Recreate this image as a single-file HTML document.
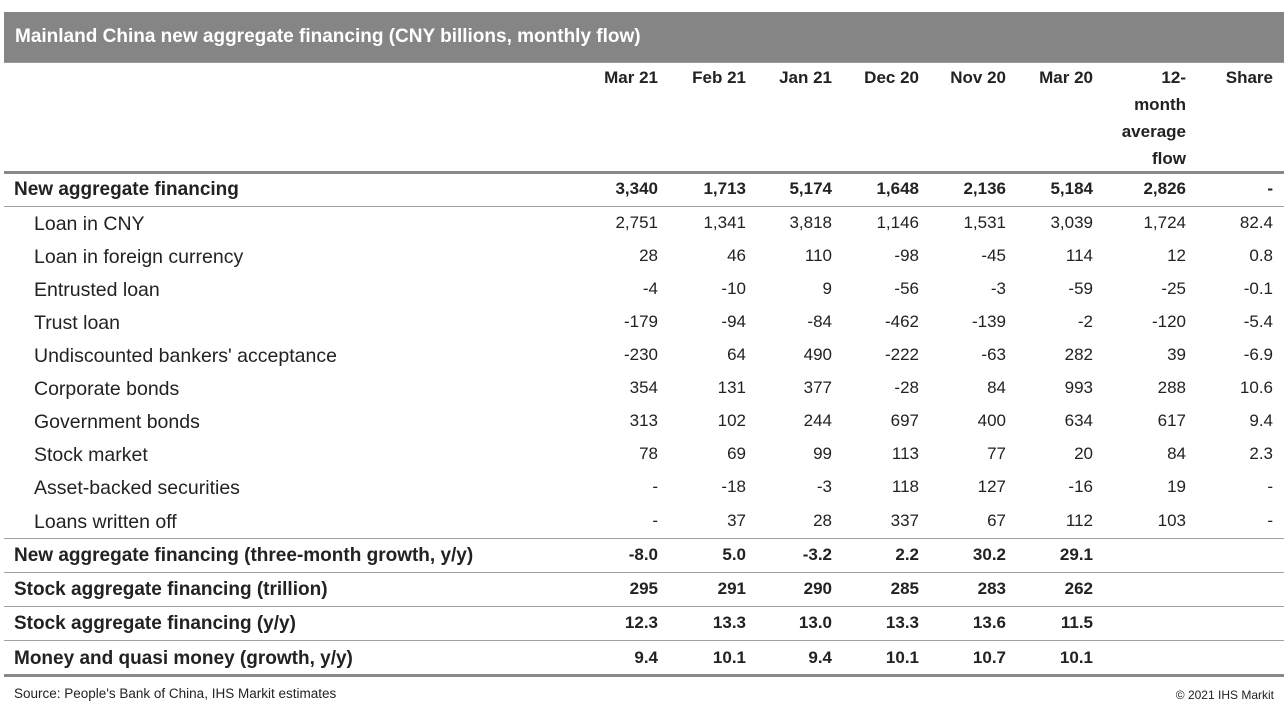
<!DOCTYPE html>
<html><head><meta charset="utf-8"><style>
body{margin:0;width:1288px;height:718px;background:#fff;font-family:"Liberation Sans",sans-serif;color:#222;position:relative;overflow:hidden}
.a{position:absolute;white-space:nowrap}
.t{position:absolute;left:4px;top:12px;width:1280px;height:50px;background:#858585;border-bottom:1px solid #999}
.t span{position:absolute;left:11px;top:14px;color:#fff;font-weight:bold;font-size:19px}
.ln{position:absolute;left:4px;width:1280px;background:#a0a0a0;height:1px}
.th{height:3px;background:#8a8a8a}
.h{font-weight:bold;font-size:17px;text-align:right}
.r{font-size:17px;text-align:right}
.b{font-weight:bold}
</style></head><body>
<div class="t"><span>Mainland China new aggregate financing (CNY billions, monthly flow)</span></div>
<div id="tbl"></div>
<div class="a" style="left:14px;top:686px;font-size:13.5px">Source: People's Bank of China, IHS Markit estimates</div>
<div class="a" style="right:14px;top:688px;font-size:12px">© 2021 IHS Markit</div>
<script>
const headers=["Mar 21","Feb 21","Jan 21","Dec 20","Nov 20","Mar 20","12-|month|average|flow","Share"];
const rowLabels=["New aggregate financing","Loan in CNY","Loan in foreign currency","Entrusted loan","Trust loan","Undiscounted bankers' acceptance","Corporate bonds","Government bonds","Stock market","Asset-backed securities","Loans written off","New aggregate financing (three-month growth, y/y)","Stock aggregate financing (trillion)","Stock aggregate financing (y/y)","Money and quasi money (growth, y/y)"];
const rowValues=[
["3,340","1,713","5,174","1,648","2,136","5,184","2,826","-"],
["2,751","1,341","3,818","1,146","1,531","3,039","1,724","82.4"],
["28","46","110","-98","-45","114","12","0.8"],
["-4","-10","9","-56","-3","-59","-25","-0.1"],
["-179","-94","-84","-462","-139","-2","-120","-5.4"],
["-230","64","490","-222","-63","282","39","-6.9"],
["354","131","377","-28","84","993","288","10.6"],
["313","102","244","697","400","634","617","9.4"],
["78","69","99","113","77","20","84","2.3"],
["-","-18","-3","118","127","-16","19","-"],
["-","37","28","337","67","112","103","-"],
["-8.0","5.0","-3.2","2.2","30.2","29.1","",""],
["295","291","290","285","283","262","",""],
["12.3","13.3","13.0","13.3","13.6","11.5","",""],
["9.4","10.1","9.4","10.1","10.7","10.1","",""]];
const boldRows=[1,0,0,0,0,0,0,0,0,0,0,1,1,1,1];
const colRight=[658,746,832,919,1006,1093,1186,1273];
const rowTop=[172,206,239,272,305,338,371,404,437,470,503,538,572,606,640];
const rowH=[34,33,33,33,33,33,33,33,33,33,35,34,34,34,35];
const T=document.getElementById('tbl');
function add(cls,style,txt,name){const d=document.createElement('div');d.className=cls;d.style.cssText=style;d.textContent=txt;


T.appendChild(d);return d;}
headers.forEach((h,i)=>{h.split('|').forEach((p,k)=>{add('a h','right:'+(1288-colRight[i])+'px;top:'+(68+k*27)+'px',p,'column-header');});});
const lines=[[171,1],[206,0],[538,0],[572,0],[606,0],[640,0],[674,1]];
lines.forEach(l=>{add('ln'+(l[1]?' th':''),'top:'+l[0]+'px','','row-divider');});
rowLabels.forEach((lab,r)=>{const y=rowTop[r]+rowH[r]/2-11;const b=boldRows[r];
add('a'+(b?' b':''),'left:'+(b?14:34)+'px;top:'+(y+1)+'px;font-size:'+(b?'19px':'19.5px'),lab,'row-label');
rowValues[r].forEach((v,c)=>{if(v!=='')add('a r'+(b?' b':''),'right:'+(1288-colRight[c])+'px;top:'+(y+1)+'px',v,'cell-value');});});
</script>
</body></html>
